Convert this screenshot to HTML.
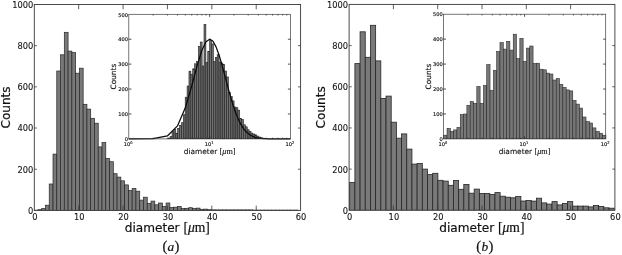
<!DOCTYPE html>
<html><head><meta charset="utf-8"><title>Histogram figure</title>
<style>html,body{margin:0;padding:0;background:#fff}svg{display:block}</style></head>
<body>
<svg width="622" height="255" viewBox="0 0 622 255">
<rect width="622" height="255" fill="#fff"/>
<clipPath id="c1"><rect x="0" y="0" width="622" height="210.40"/></clipPath><g clip-path="url(#c1)" fill="#797979" stroke="#262626" stroke-width="0.7"><rect x="34.15" y="210.20" width="3.77" height="0.20"/><rect x="37.92" y="209.70" width="3.77" height="0.70"/><rect x="41.69" y="208.50" width="3.77" height="1.90"/><rect x="45.46" y="205.20" width="3.77" height="5.20"/><rect x="49.23" y="184.00" width="3.77" height="26.40"/><rect x="53.00" y="154.10" width="3.77" height="56.30"/><rect x="56.77" y="71.00" width="3.77" height="139.40"/><rect x="60.54" y="54.80" width="3.77" height="155.60"/><rect x="64.31" y="32.30" width="3.77" height="178.10"/><rect x="68.08" y="51.10" width="3.77" height="159.30"/><rect x="71.85" y="52.60" width="3.77" height="157.80"/><rect x="75.62" y="73.20" width="3.77" height="137.20"/><rect x="79.39" y="68.20" width="3.77" height="142.20"/><rect x="83.16" y="104.30" width="3.77" height="106.10"/><rect x="86.93" y="109.10" width="3.77" height="101.30"/><rect x="90.70" y="118.30" width="3.77" height="92.10"/><rect x="94.47" y="123.20" width="3.77" height="87.20"/><rect x="98.24" y="146.90" width="3.77" height="63.50"/><rect x="102.01" y="142.60" width="3.77" height="67.80"/><rect x="105.78" y="158.40" width="3.77" height="52.00"/><rect x="109.55" y="161.70" width="3.77" height="48.70"/><rect x="113.32" y="173.70" width="3.77" height="36.70"/><rect x="117.09" y="177.10" width="3.77" height="33.30"/><rect x="120.86" y="180.80" width="3.77" height="29.60"/><rect x="124.63" y="184.90" width="3.77" height="25.50"/><rect x="128.40" y="190.60" width="3.77" height="19.80"/><rect x="132.17" y="188.40" width="3.77" height="22.00"/><rect x="135.94" y="191.20" width="3.77" height="19.20"/><rect x="139.71" y="200.10" width="3.77" height="10.30"/><rect x="143.48" y="197.20" width="3.77" height="13.20"/><rect x="147.25" y="203.40" width="3.77" height="7.00"/><rect x="151.02" y="201.10" width="3.77" height="9.30"/><rect x="154.79" y="204.80" width="3.77" height="5.60"/><rect x="158.56" y="203.00" width="3.77" height="7.40"/><rect x="162.33" y="206.40" width="3.77" height="4.00"/><rect x="166.10" y="203.00" width="3.77" height="7.40"/><rect x="169.87" y="207.50" width="3.77" height="2.90"/><rect x="173.64" y="207.20" width="3.77" height="3.20"/><rect x="177.41" y="206.60" width="3.77" height="3.80"/><rect x="181.18" y="208.50" width="3.77" height="1.90"/><rect x="184.95" y="208.30" width="3.77" height="2.10"/><rect x="188.72" y="207.70" width="3.77" height="2.70"/><rect x="192.49" y="208.50" width="3.77" height="1.90"/><rect x="196.26" y="208.10" width="3.77" height="2.30"/><rect x="200.03" y="209.30" width="3.77" height="1.10"/><rect x="203.80" y="209.10" width="3.77" height="1.30"/><rect x="207.57" y="209.70" width="3.77" height="0.70"/><rect x="211.34" y="209.90" width="3.77" height="0.50"/><rect x="215.11" y="209.90" width="3.77" height="0.50"/><rect x="218.88" y="209.90" width="3.77" height="0.50"/><rect x="222.65" y="209.90" width="3.77" height="0.50"/><rect x="226.42" y="209.90" width="3.77" height="0.50"/><rect x="230.19" y="209.90" width="3.77" height="0.50"/><rect x="233.96" y="209.90" width="3.77" height="0.50"/><rect x="237.73" y="209.90" width="3.77" height="0.50"/><rect x="241.50" y="209.90" width="3.77" height="0.50"/><rect x="245.27" y="209.90" width="3.77" height="0.50"/><rect x="249.04" y="209.90" width="3.77" height="0.50"/><rect x="252.81" y="210.10" width="3.77" height="0.30"/><rect x="256.58" y="210.10" width="3.77" height="0.30"/><rect x="260.35" y="210.10" width="3.77" height="0.30"/><rect x="264.12" y="210.10" width="3.77" height="0.30"/><rect x="267.89" y="210.10" width="3.77" height="0.30"/><rect x="271.66" y="210.10" width="3.77" height="0.30"/><rect x="275.43" y="210.10" width="3.77" height="0.30"/><rect x="279.20" y="210.10" width="3.77" height="0.30"/><rect x="282.97" y="210.10" width="3.77" height="0.30"/><rect x="286.74" y="210.10" width="3.77" height="0.30"/><rect x="290.51" y="210.10" width="3.77" height="0.30"/><rect x="294.28" y="210.10" width="3.77" height="0.30"/></g>
<rect x="34.3" y="4.5" width="266.30" height="205.90" fill="none" stroke="#383838" stroke-width="0.9"/><path d="M78.68 210.4v-4.8M78.68 4.5v4.8M123.07 210.4v-4.8M123.07 4.5v4.8M167.45 210.4v-4.8M167.45 4.5v4.8M211.83 210.4v-4.8M211.83 4.5v4.8M256.22 210.4v-4.8M256.22 4.5v4.8M34.3 169.22h2.6M300.6 169.22h-2.6M34.3 128.04h2.6M300.6 128.04h-2.6M34.3 86.86h2.6M300.6 86.86h-2.6M34.3 45.68h2.6M300.6 45.68h-2.6" stroke="#383838" stroke-width="0.8" fill="none"/>
<g font-family="'DejaVu Sans','Liberation Sans',sans-serif" font-size="8.3" fill="#151515" stroke="#151515" stroke-width="0.1"><text x="34.80" y="219.8" text-anchor="middle">0</text><text x="79.18" y="219.8" text-anchor="middle">10</text><text x="123.57" y="219.8" text-anchor="middle">20</text><text x="167.95" y="219.8" text-anchor="middle">30</text><text x="212.33" y="219.8" text-anchor="middle">40</text><text x="256.72" y="219.8" text-anchor="middle">50</text><text x="301.10" y="219.8" text-anchor="middle">60</text><text x="33.30" y="213.80" text-anchor="end">0</text><text x="33.30" y="172.62" text-anchor="end">200</text><text x="33.30" y="131.44" text-anchor="end">400</text><text x="33.30" y="90.26" text-anchor="end">600</text><text x="33.30" y="49.08" text-anchor="end">800</text><text x="33.30" y="7.90" text-anchor="end">1000</text></g>
<clipPath id="c2"><rect x="0" y="0" width="622" height="210.30"/></clipPath><g clip-path="url(#c2)" fill="#797979" stroke="#262626" stroke-width="0.8"><rect x="349.70" y="182.50" width="5.19" height="27.80"/><rect x="354.89" y="63.60" width="5.19" height="146.70"/><rect x="360.07" y="31.80" width="5.19" height="178.50"/><rect x="365.26" y="57.30" width="5.19" height="153.00"/><rect x="370.45" y="25.30" width="5.19" height="185.00"/><rect x="375.63" y="60.90" width="5.19" height="149.40"/><rect x="380.82" y="98.40" width="5.19" height="111.90"/><rect x="386.01" y="96.10" width="5.19" height="114.20"/><rect x="391.20" y="122.20" width="5.19" height="88.10"/><rect x="396.38" y="138.20" width="5.19" height="72.10"/><rect x="401.57" y="133.90" width="5.19" height="76.40"/><rect x="406.76" y="149.10" width="5.19" height="61.20"/><rect x="411.94" y="164.10" width="5.19" height="46.20"/><rect x="417.13" y="163.50" width="5.19" height="46.80"/><rect x="422.32" y="169.10" width="5.19" height="41.20"/><rect x="427.50" y="174.60" width="5.19" height="35.70"/><rect x="432.69" y="173.30" width="5.19" height="37.00"/><rect x="437.88" y="180.30" width="5.19" height="30.00"/><rect x="443.07" y="181.10" width="5.19" height="29.20"/><rect x="448.25" y="185.30" width="5.19" height="25.00"/><rect x="453.44" y="180.50" width="5.19" height="29.80"/><rect x="458.63" y="189.30" width="5.19" height="21.00"/><rect x="463.81" y="184.40" width="5.19" height="25.90"/><rect x="469.00" y="193.20" width="5.19" height="17.10"/><rect x="474.19" y="189.10" width="5.19" height="21.20"/><rect x="479.38" y="193.40" width="5.19" height="16.90"/><rect x="484.56" y="193.40" width="5.19" height="16.90"/><rect x="489.75" y="194.40" width="5.19" height="15.90"/><rect x="494.94" y="192.60" width="5.19" height="17.70"/><rect x="500.12" y="196.20" width="5.19" height="14.10"/><rect x="505.31" y="197.20" width="5.19" height="13.10"/><rect x="510.50" y="197.80" width="5.19" height="12.50"/><rect x="515.68" y="196.50" width="5.19" height="13.80"/><rect x="520.87" y="201.00" width="5.19" height="9.30"/><rect x="526.06" y="200.50" width="5.19" height="9.80"/><rect x="531.25" y="201.10" width="5.19" height="9.20"/><rect x="536.43" y="198.20" width="5.19" height="12.10"/><rect x="541.62" y="202.90" width="5.19" height="7.40"/><rect x="546.81" y="204.10" width="5.19" height="6.20"/><rect x="551.99" y="201.60" width="5.19" height="8.70"/><rect x="557.18" y="204.90" width="5.19" height="5.40"/><rect x="562.37" y="203.50" width="5.19" height="6.80"/><rect x="567.55" y="201.60" width="5.19" height="8.70"/><rect x="572.74" y="206.10" width="5.19" height="4.20"/><rect x="577.93" y="206.10" width="5.19" height="4.20"/><rect x="583.12" y="206.10" width="5.19" height="4.20"/><rect x="588.30" y="206.90" width="5.19" height="3.40"/><rect x="593.49" y="205.50" width="5.19" height="4.80"/><rect x="598.68" y="206.50" width="5.19" height="3.80"/><rect x="603.86" y="207.80" width="5.19" height="2.50"/><rect x="609.05" y="208.20" width="5.19" height="2.10"/></g>
<rect x="349.1" y="4.4" width="265.80" height="205.90" fill="none" stroke="#383838" stroke-width="0.9"/><path d="M393.40 210.3v-4.8M393.40 4.4v4.8M437.70 210.3v-4.8M437.70 4.4v4.8M482.00 210.3v-4.8M482.00 4.4v4.8M526.30 210.3v-4.8M526.30 4.4v4.8M570.60 210.3v-4.8M570.60 4.4v4.8M349.1 169.12h2.6M614.9 169.12h-2.6M349.1 127.94h2.6M614.9 127.94h-2.6M349.1 86.76h2.6M614.9 86.76h-2.6M349.1 45.58h2.6M614.9 45.58h-2.6" stroke="#383838" stroke-width="0.8" fill="none"/>
<g font-family="'DejaVu Sans','Liberation Sans',sans-serif" font-size="8.3" fill="#151515" stroke="#151515" stroke-width="0.1"><text x="349.60" y="219.8" text-anchor="middle">0</text><text x="393.90" y="219.8" text-anchor="middle">10</text><text x="438.20" y="219.8" text-anchor="middle">20</text><text x="482.50" y="219.8" text-anchor="middle">30</text><text x="526.80" y="219.8" text-anchor="middle">40</text><text x="571.10" y="219.8" text-anchor="middle">50</text><text x="615.40" y="219.8" text-anchor="middle">60</text><text x="348.10" y="213.70" text-anchor="end">0</text><text x="348.10" y="172.52" text-anchor="end">200</text><text x="348.10" y="131.34" text-anchor="end">400</text><text x="348.10" y="90.16" text-anchor="end">600</text><text x="348.10" y="48.98" text-anchor="end">800</text><text x="348.10" y="7.80" text-anchor="end">1000</text></g>
<g font-family="'DejaVu Sans','Liberation Sans',sans-serif" font-size="12.1" fill="#111" stroke="#111" stroke-width="0.2">
<text x="167.35" y="231.6" text-anchor="middle">diameter <tspan font-family="'Liberation Serif','DejaVu Serif',serif" font-size="13.6">[<tspan font-style="italic">μ</tspan>m]</tspan></text>
<text transform="translate(10.40 107.45) rotate(-90)" text-anchor="middle">Counts</text>
<g font-family="'Liberation Serif','DejaVu Serif',serif" text-anchor="middle"><text x="164.85" y="251.4" font-size="14.6">(</text><text x="170.95" y="251.4" font-size="13.4" font-style="italic">a</text><text x="177.05" y="251.4" font-size="14.6">)</text></g>
<text x="481.90" y="231.6" text-anchor="middle">diameter <tspan font-family="'Liberation Serif','DejaVu Serif',serif" font-size="13.6">[<tspan font-style="italic">μ</tspan>m]</tspan></text>
<text transform="translate(325.20 107.35) rotate(-90)" text-anchor="middle">Counts</text>
<g font-family="'Liberation Serif','DejaVu Serif',serif" text-anchor="middle"><text x="478.70" y="251.4" font-size="14.6">(</text><text x="484.80" y="251.4" font-size="13.4" font-style="italic">b</text><text x="490.90" y="251.4" font-size="14.6">)</text></g>
</g>
<rect x="128.8" y="14.3" width="161.70" height="124.60" fill="#fff"/>
<clipPath id="c3"><rect x="0" y="0" width="622" height="138.90"/></clipPath><g clip-path="url(#c3)" fill="#6e6e6e" stroke="#222" stroke-width="0.6"><rect x="168.28" y="138.00" width="1.88" height="0.90"/><rect x="170.16" y="136.60" width="1.88" height="2.30"/><rect x="172.04" y="131.70" width="1.88" height="7.20"/><rect x="173.92" y="129.30" width="1.88" height="9.60"/><rect x="175.80" y="133.20" width="1.88" height="5.70"/><rect x="177.68" y="128.30" width="1.88" height="10.60"/><rect x="179.56" y="125.30" width="1.88" height="13.60"/><rect x="181.44" y="122.70" width="1.88" height="16.20"/><rect x="183.32" y="114.70" width="1.88" height="24.20"/><rect x="185.20" y="97.20" width="1.88" height="41.70"/><rect x="187.08" y="86.00" width="1.88" height="52.90"/><rect x="188.96" y="71.20" width="1.88" height="67.70"/><rect x="190.84" y="74.20" width="1.88" height="64.70"/><rect x="192.72" y="68.80" width="1.88" height="70.10"/><rect x="194.60" y="63.80" width="1.88" height="75.10"/><rect x="196.48" y="61.50" width="1.88" height="77.40"/><rect x="198.36" y="46.40" width="1.88" height="92.50"/><rect x="200.24" y="42.00" width="1.88" height="96.90"/><rect x="202.12" y="66.00" width="1.88" height="72.90"/><rect x="204.00" y="24.40" width="1.88" height="114.50"/><rect x="205.88" y="62.50" width="1.88" height="76.40"/><rect x="207.76" y="51.30" width="1.88" height="87.60"/><rect x="209.64" y="40.70" width="1.88" height="98.20"/><rect x="211.52" y="43.90" width="1.88" height="95.00"/><rect x="213.40" y="61.60" width="1.88" height="77.30"/><rect x="215.28" y="57.60" width="1.88" height="81.30"/><rect x="217.16" y="54.70" width="1.88" height="84.20"/><rect x="219.04" y="62.00" width="1.88" height="76.90"/><rect x="220.92" y="63.00" width="1.88" height="75.90"/><rect x="222.80" y="64.30" width="1.88" height="74.60"/><rect x="224.68" y="71.00" width="1.88" height="67.90"/><rect x="226.56" y="76.90" width="1.88" height="62.00"/><rect x="228.44" y="92.50" width="1.88" height="46.40"/><rect x="230.32" y="96.50" width="1.88" height="42.40"/><rect x="232.20" y="100.90" width="1.88" height="38.00"/><rect x="234.08" y="107.00" width="1.88" height="31.90"/><rect x="235.96" y="107.70" width="1.88" height="31.20"/><rect x="237.84" y="110.20" width="1.88" height="28.70"/><rect x="239.72" y="118.50" width="1.88" height="20.40"/><rect x="241.60" y="119.40" width="1.88" height="19.50"/><rect x="243.48" y="124.80" width="1.88" height="14.10"/><rect x="245.36" y="126.80" width="1.88" height="12.10"/><rect x="247.24" y="129.70" width="1.88" height="9.20"/><rect x="249.12" y="131.50" width="1.88" height="7.40"/><rect x="251.00" y="133.10" width="1.88" height="5.80"/><rect x="252.88" y="134.00" width="1.88" height="4.90"/><rect x="254.76" y="134.80" width="1.88" height="4.10"/><rect x="256.64" y="136.00" width="1.88" height="2.90"/><rect x="258.52" y="137.00" width="1.88" height="1.90"/><rect x="260.40" y="137.80" width="1.88" height="1.10"/><rect x="262.28" y="138.20" width="1.88" height="0.70"/></g>
<polyline points="128.80,138.90 153.14,138.72 167.38,135.95 177.48,125.93 185.31,107.86 191.71,85.99 197.13,65.67 201.81,50.51 205.95,41.80 209.65,39.14 213.00,41.32 216.05,46.88 218.86,54.51 221.46,63.13 223.89,72.00 226.15,80.58 228.28,88.57 230.29,95.81 232.19,102.24 233.99,107.86 235.70,112.72 237.33,116.88 238.90,120.41 240.39,123.41 241.82,125.93 243.20,128.05 244.53,129.83 245.80,131.31 247.03,132.55 248.23,133.59 249.38,134.45 250.49,135.17 251.57,135.78 252.62,136.28 253.64,136.70 254.63,137.05 255.59,137.34 256.53,137.59 257.44,137.79 258.33,137.97 259.19,138.11 260.04,138.23 260.87,138.33 261.67,138.42 262.46,138.49 263.23,138.55 263.99,138.60 264.73,138.65 265.45,138.68 266.16,138.72 266.86,138.74 267.54,138.76 268.21,138.78 268.86,138.80 269.51,138.81 270.14,138.83 270.76,138.84 271.37,138.85 271.97,138.85 272.56,138.86 273.14,138.86 273.71,138.87 274.28,138.87 274.83,138.88 275.37,138.88 275.91,138.88 276.44,138.88 276.96,138.89 277.47,138.89 277.98,138.89 278.47,138.89 278.97,138.89 279.45,138.89 279.93,138.89 280.40,138.89 280.86,138.90 281.32,138.90 281.78,138.90 282.22,138.90 282.66,138.90 283.10,138.90 283.53,138.90 283.96,138.90 284.38,138.90 284.79,138.90 285.20,138.90 285.61,138.90 286.01,138.90 286.41,138.90 286.80,138.90 287.19,138.90 287.57,138.90 287.95,138.90 288.33,138.90 288.70,138.90 289.07,138.90 289.43,138.90 289.79,138.90 290.15,138.90 290.50,138.90" fill="none"  stroke="#0a0a0a" stroke-width="1.25" stroke-linejoin="round"/>
<rect x="128.8" y="14.3" width="161.70" height="124.60" fill="none" stroke="#3c3c3c" stroke-width="0.7"/><path d="M153.14 138.9v-1.2M153.14 14.3v1.2M167.38 138.9v-1.2M167.38 14.3v1.2M177.48 138.9v-1.2M177.48 14.3v1.2M185.31 138.9v-1.2M185.31 14.3v1.2M191.71 138.9v-1.2M191.71 14.3v1.2M197.13 138.9v-1.2M197.13 14.3v1.2M201.81 138.9v-1.2M201.81 14.3v1.2M205.95 138.9v-1.2M205.95 14.3v1.2M209.65 138.9v-2.6M209.65 14.3v2.6M233.99 138.9v-1.2M233.99 14.3v1.2M248.23 138.9v-1.2M248.23 14.3v1.2M258.33 138.9v-1.2M258.33 14.3v1.2M266.16 138.9v-1.2M266.16 14.3v1.2M272.56 138.9v-1.2M272.56 14.3v1.2M277.98 138.9v-1.2M277.98 14.3v1.2M282.66 138.9v-1.2M282.66 14.3v1.2M286.80 138.9v-1.2M286.80 14.3v1.2M128.8 113.98h2.6M290.5 113.98h-2.6M128.8 89.06h2.6M290.5 89.06h-2.6M128.8 64.14h2.6M290.5 64.14h-2.6M128.8 39.22h2.6M290.5 39.22h-2.6" stroke="#262626" stroke-width="0.8" fill="none"/>
<g font-family="'DejaVu Sans','Liberation Sans',sans-serif" font-size="5.1" fill="#111" stroke="#111" stroke-width="0.15"><text x="128.10" y="141.10" text-anchor="end">0</text><text x="128.10" y="116.18" text-anchor="end">100</text><text x="128.10" y="91.26" text-anchor="end">200</text><text x="128.10" y="66.34" text-anchor="end">300</text><text x="128.10" y="41.42" text-anchor="end">400</text><text x="128.10" y="16.50" text-anchor="end">500</text><text x="128.20" y="146.10" text-anchor="middle">10<tspan dy="-2.3" font-size="3.6">0</tspan></text><text x="209.05" y="146.10" text-anchor="middle">10<tspan dy="-2.3" font-size="3.6">1</tspan></text><text x="289.90" y="146.10" text-anchor="middle">10<tspan dy="-2.3" font-size="3.6">2</tspan></text><text x="209.65" y="153.90" text-anchor="middle" font-size="7.4" stroke-width="0.1">diameter <tspan font-family="'Liberation Serif','DejaVu Serif',serif" font-size="8.2">[<tspan font-style="italic">μ</tspan>m]</tspan></text><text transform="translate(116.20 76.60) rotate(-90)" text-anchor="middle" font-size="7.4" stroke-width="0.12">Counts</text></g>
<rect x="443.4" y="14.2" width="162.30" height="124.70" fill="#fff"/>
<clipPath id="c4"><rect x="0" y="0" width="622" height="138.90"/></clipPath><g clip-path="url(#c4)" fill="#777" stroke="#262626" stroke-width="0.55"><rect x="443.70" y="135.20" width="3.31" height="3.70"/><rect x="447.01" y="128.30" width="3.31" height="10.60"/><rect x="450.32" y="131.30" width="3.31" height="7.60"/><rect x="453.63" y="129.90" width="3.31" height="9.00"/><rect x="456.94" y="127.40" width="3.31" height="11.50"/><rect x="460.25" y="114.60" width="3.31" height="24.30"/><rect x="463.56" y="114.00" width="3.31" height="24.90"/><rect x="466.87" y="105.30" width="3.31" height="33.60"/><rect x="470.18" y="101.50" width="3.31" height="37.40"/><rect x="473.49" y="103.30" width="3.31" height="35.60"/><rect x="476.80" y="86.50" width="3.31" height="52.40"/><rect x="480.11" y="103.30" width="3.31" height="35.60"/><rect x="483.42" y="85.50" width="3.31" height="53.40"/><rect x="486.73" y="64.50" width="3.31" height="74.40"/><rect x="490.04" y="90.40" width="3.31" height="48.50"/><rect x="493.35" y="70.30" width="3.31" height="68.60"/><rect x="496.66" y="51.50" width="3.31" height="87.40"/><rect x="499.97" y="42.60" width="3.31" height="96.30"/><rect x="503.28" y="49.10" width="3.31" height="89.80"/><rect x="506.59" y="41.30" width="3.31" height="97.60"/><rect x="509.90" y="50.10" width="3.31" height="88.80"/><rect x="513.21" y="34.20" width="3.31" height="104.70"/><rect x="516.52" y="58.60" width="3.31" height="80.30"/><rect x="519.83" y="38.30" width="3.31" height="100.60"/><rect x="523.14" y="61.40" width="3.31" height="77.50"/><rect x="526.45" y="48.10" width="3.31" height="90.80"/><rect x="529.76" y="46.00" width="3.31" height="92.90"/><rect x="533.07" y="63.40" width="3.31" height="75.50"/><rect x="536.38" y="63.20" width="3.31" height="75.70"/><rect x="539.69" y="69.20" width="3.31" height="69.70"/><rect x="543.00" y="69.80" width="3.31" height="69.10"/><rect x="546.31" y="73.10" width="3.31" height="65.80"/><rect x="549.62" y="74.00" width="3.31" height="64.90"/><rect x="552.93" y="80.00" width="3.31" height="58.90"/><rect x="556.24" y="78.50" width="3.31" height="60.40"/><rect x="559.55" y="84.40" width="3.31" height="54.50"/><rect x="562.86" y="87.40" width="3.31" height="51.50"/><rect x="566.17" y="89.90" width="3.31" height="49.00"/><rect x="569.48" y="90.90" width="3.31" height="48.00"/><rect x="572.79" y="100.40" width="3.31" height="38.50"/><rect x="576.10" y="104.10" width="3.31" height="34.80"/><rect x="579.41" y="108.10" width="3.31" height="30.80"/><rect x="582.72" y="117.00" width="3.31" height="21.90"/><rect x="586.03" y="121.50" width="3.31" height="17.40"/><rect x="589.34" y="123.00" width="3.31" height="15.90"/><rect x="592.65" y="127.90" width="3.31" height="11.00"/><rect x="595.96" y="131.30" width="3.31" height="7.60"/><rect x="599.27" y="133.20" width="3.31" height="5.70"/><rect x="602.58" y="135.20" width="3.31" height="3.70"/></g>
<rect x="443.4" y="14.2" width="162.30" height="124.70" fill="none" stroke="#3c3c3c" stroke-width="0.7"/><path d="M467.83 138.9v-1.2M467.83 14.2v1.2M482.12 138.9v-1.2M482.12 14.2v1.2M492.26 138.9v-1.2M492.26 14.2v1.2M500.12 138.9v-1.2M500.12 14.2v1.2M506.55 138.9v-1.2M506.55 14.2v1.2M511.98 138.9v-1.2M511.98 14.2v1.2M516.69 138.9v-1.2M516.69 14.2v1.2M520.84 138.9v-1.2M520.84 14.2v1.2M524.55 138.9v-2.6M524.55 14.2v2.6M548.98 138.9v-1.2M548.98 14.2v1.2M563.27 138.9v-1.2M563.27 14.2v1.2M573.41 138.9v-1.2M573.41 14.2v1.2M581.27 138.9v-1.2M581.27 14.2v1.2M587.70 138.9v-1.2M587.70 14.2v1.2M593.13 138.9v-1.2M593.13 14.2v1.2M597.84 138.9v-1.2M597.84 14.2v1.2M601.99 138.9v-1.2M601.99 14.2v1.2M443.4 113.96h2.6M605.7 113.96h-2.6M443.4 89.02h2.6M605.7 89.02h-2.6M443.4 64.08h2.6M605.7 64.08h-2.6M443.4 39.14h2.6M605.7 39.14h-2.6" stroke="#262626" stroke-width="0.8" fill="none"/>
<g font-family="'DejaVu Sans','Liberation Sans',sans-serif" font-size="5.1" fill="#111" stroke="#111" stroke-width="0.15"><text x="442.70" y="141.10" text-anchor="end">0</text><text x="442.70" y="116.16" text-anchor="end">100</text><text x="442.70" y="91.22" text-anchor="end">200</text><text x="442.70" y="66.28" text-anchor="end">300</text><text x="442.70" y="41.34" text-anchor="end">400</text><text x="442.70" y="16.40" text-anchor="end">500</text><text x="442.80" y="146.10" text-anchor="middle">10<tspan dy="-2.3" font-size="3.6">0</tspan></text><text x="523.95" y="146.10" text-anchor="middle">10<tspan dy="-2.3" font-size="3.6">1</tspan></text><text x="605.10" y="146.10" text-anchor="middle">10<tspan dy="-2.3" font-size="3.6">2</tspan></text><text x="524.55" y="153.90" text-anchor="middle" font-size="7.4" stroke-width="0.1">diameter <tspan font-family="'Liberation Serif','DejaVu Serif',serif" font-size="8.2">[<tspan font-style="italic">μ</tspan>m]</tspan></text><text transform="translate(430.80 76.55) rotate(-90)" text-anchor="middle" font-size="7.4" stroke-width="0.12">Counts</text></g>
</svg>
</body></html>
